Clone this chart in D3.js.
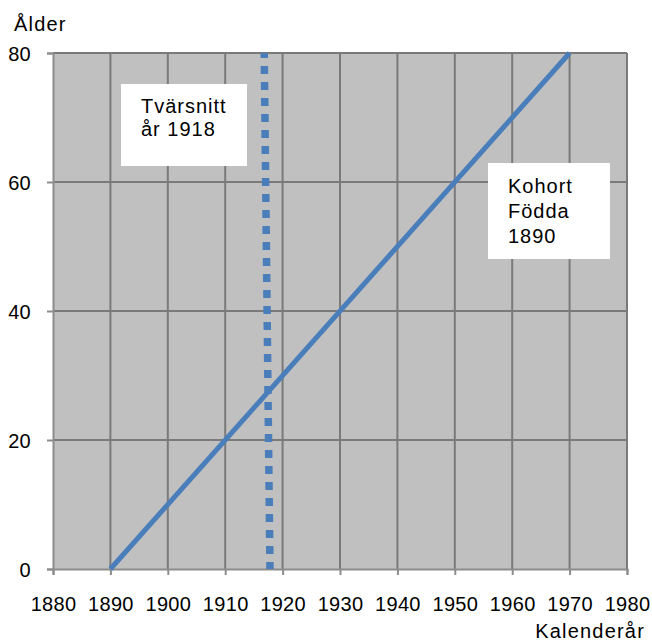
<!DOCTYPE html>
<html><head><meta charset="utf-8">
<script src="https://cdn.jsdelivr.net/npm/d3@7/dist/d3.min.js"></script>
<style>body{margin:0;background:#fff;} text{font-family:"Liberation Sans",Arial,sans-serif;fill:#000;}</style>
</head><body>
<svg id="c" width="652" height="642"></svg>
<script>
const xTicks = [1880,1890,1900,1910,1920,1930,1940,1950,1960,1970,1980];
const yTicks = [0,20,40,60,80];
const cohortYears = [1890, 1970];
const cohortAges = [0, 80];
const crossYears = [1916.8, 1917.8];
const crossAges = [80, 0];
const yLabel = "Ålder";
const xLabel = "Kalenderår";
const noteCross = ["Tvärsnitt", "år 1918"];
const noteCohort = ["Kohort", "Födda", "1890"];

const svg = d3.select("#c");
const L = 53, R = 627, T = 53, B = 569;
const x = d3.scaleLinear().domain([1880,1980]).range([L,R]);
const y = d3.scaleLinear().domain([0,80]).range([B,T]);

svg.append("rect").attr("x",L).attr("y",T).attr("width",R-L).attr("height",B-T).attr("fill","#c0c0c0");

// vertical grid
svg.append("g").selectAll("line").data(xTicks.slice(1)).join("line")
  .attr("x1",d=>x(d)).attr("x2",d=>x(d)).attr("y1",T).attr("y2",B)
  .attr("stroke","#7a7a7a").attr("stroke-width",2);
// horizontal grid
svg.append("g").selectAll("line").data(yTicks.slice(1)).join("line")
  .attr("x1",L).attr("x2",R).attr("y1",d=>y(d)).attr("y2",d=>y(d))
  .attr("stroke","#7a7a7a").attr("stroke-width",2);

// axes
const xAxis = d3.axisBottom(x).tickValues(xTicks).tickSize(6).tickFormat(d3.format("d"));
const gx = svg.append("g").attr("transform",`translate(0,${B})`).call(xAxis);
gx.select(".domain").attr("stroke","#8c8c8c").attr("stroke-width",2);
gx.selectAll(".tick line").attr("stroke","#8c8c8c").attr("stroke-width",2);
gx.selectAll(".tick text").attr("y",28).attr("dy","0.71em").attr("font-size",20)
  .style("font-family","Liberation Sans, Arial, sans-serif").attr("fill","#000").attr("letter-spacing","0.3");
const yAxis = d3.axisLeft(y).tickValues(yTicks).tickSize(6);
const gy = svg.append("g").attr("transform",`translate(${L},0)`).call(yAxis);
gy.select(".domain").attr("stroke","#8c8c8c").attr("stroke-width",2);
gy.selectAll(".tick line").attr("stroke","#8c8c8c").attr("stroke-width",2);
gy.selectAll(".tick text").attr("x",-22).attr("dy","0.35em").attr("font-size",20)
  .style("font-family","Liberation Sans, Arial, sans-serif").attr("fill","#000").attr("letter-spacing","0.3");
gx.attr("font-family",null); gy.attr("font-family",null);

// notes boxes
function note(bx,by,bw,bh,lines,tx,ty,lh){
  svg.append("rect").attr("x",bx).attr("y",by).attr("width",bw).attr("height",bh).attr("fill","#fff");
  const t = svg.append("text").attr("font-size",20).attr("letter-spacing","1");
  lines.forEach((s,i)=>t.append("tspan").attr("x",tx).attr("y",ty+i*lh).text(s));
}
note(121,84,126,82,noteCross,141,113,23);
note(488,163,122,96,noteCohort,508,193,25);

// lines
const line = d3.line().x(d=>x(d[0])).y(d=>y(d[1]));
svg.append("path").datum(crossYears.map((v,i)=>[v,crossAges[i]])).attr("d",line)
  .attr("fill","none").attr("stroke","#4a7ebb").attr("stroke-width",7.5)
  .attr("stroke-dasharray","8,8").attr("stroke-dashoffset","3");
svg.append("path").datum(cohortYears.map((v,i)=>[v,cohortAges[i]])).attr("d",line)
  .attr("fill","none").attr("stroke","#4a7ebb").attr("stroke-width",5);

svg.append("text").attr("x",14).attr("y",31).attr("font-size",20).attr("letter-spacing","1.2").text(yLabel);
svg.append("text").attr("x",645).attr("y",638).attr("text-anchor","end").attr("font-size",20).attr("letter-spacing","1.2").text(xLabel);
</script>
</body></html>
